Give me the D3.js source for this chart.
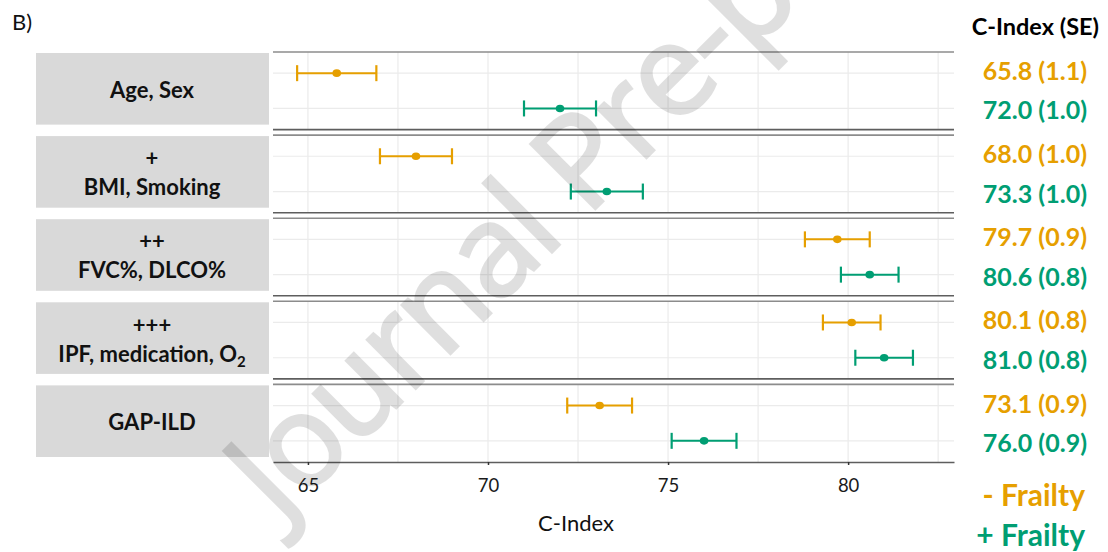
<!DOCTYPE html>
<html>
<head>
<meta charset="utf-8">
<script src="https://cdn.jsdelivr.net/npm/d3@7.9.0/dist/d3.min.js"></script>
<style>
  body { margin: 0; background: #fff; }
  svg { display: block; font-family: Lato, 'Open Sans', sans-serif; }
</style>
</head>
<body>
<div id="chart"></div>
<script>
// model labels (lines of the strip text, "_" marks a subscript)
const models = [
  ['Age, Sex'],
  ['+', 'BMI, Smoking'],
  ['++', 'FVC%, DLCO%'],
  ['+++', 'IPF, medication, O_2'],
  ['GAP-ILD']
];
const series = ['- Frailty', '+ Frailty'];
const colors = ['#E69F00', '#009E73'];

// C-index and standard error per model
const noFrailty = [65.8, 68.0, 79.7, 80.1, 73.1];
const noFrailtySE = [1.1, 1.0, 0.9, 0.8, 0.9];
const withFrailty = [72.0, 73.3, 80.6, 81.0, 76.0];
const withFrailtySE = [1.0, 1.0, 0.8, 0.8, 0.9];

const xTicks = [65, 70, 75, 80];
const xGrid = [65, 67.5, 70, 72.5, 75, 77.5, 80, 82.5];

const width = 1108;
const height = 552;

const rows = [];
models.forEach((m, i) => {
  rows.push({ panel: i, s: 0, est: noFrailty[i], se: noFrailtySE[i] });
  rows.push({ panel: i, s: 1, est: withFrailty[i], se: withFrailtySE[i] });
});

const svg = d3.select('#chart')
  .append('svg')
  .attr('width', width)
  .attr('height', height);

const x = d3.scaleLinear().domain([64.03, 82.94]).range([273, 954]);
const panelY = d3.scaleBand().domain(d3.range(models.length)).range([52, 462]).paddingInner(0.066);
const rowY = d3.scalePoint().domain([0, 1]).range([0, panelY.bandwidth()]).padding(0.6);
const yOf = d => panelY(d.panel) + rowY(d.s);

// panels
const panels = svg.append('g').selectAll('g')
  .data(models)
  .join('g')
  .attr('transform', (d, i) => `translate(0,${panelY(i)})`);

const ph = panelY.bandwidth();

panels.selectAll('.vgrid')
  .data(xGrid)
  .join('line')
  .attr('x1', d => x(d)).attr('x2', d => x(d))
  .attr('y1', 0).attr('y2', ph)
  .attr('stroke', '#ebebeb').attr('stroke-width', 1.2);

panels.selectAll('.hgrid')
  .data([0, 1])
  .join('line')
  .attr('x1', x.range()[0]).attr('x2', x.range()[1])
  .attr('y1', d => rowY(d)).attr('y2', d => rowY(d))
  .attr('stroke', '#ebebeb').attr('stroke-width', 1.2);

panels.append('line')
  .attr('x1', x.range()[0]).attr('x2', x.range()[1])
  .attr('y1', 0).attr('y2', 0)
  .attr('stroke', '#8c8c8c').attr('stroke-width', 1.6);

panels.filter((d, i) => i < models.length - 1)
  .append('line')
  .attr('x1', x.range()[0]).attr('x2', x.range()[1])
  .attr('y1', ph).attr('y2', ph)
  .attr('stroke', '#5e5e5e').attr('stroke-width', 1.6);

// strips
panels.append('rect')
  .attr('x', 36).attr('y', 1)
  .attr('width', 233).attr('height', ph - 6)
  .attr('fill', '#d9d9d9');

panels.each(function(lines) {
  const g = d3.select(this);
  const cy = (ph - 4) / 2 + 1;
  const lh = 29;
  lines.forEach((ln, k) => {
    const t = g.append('text')
      .attr('x', 152)
      .attr('y', cy + (k - (lines.length - 1) / 2) * lh)
      .attr('dy', '0.36em')
      .attr('text-anchor', 'middle')
      .attr('font-weight', 700)
      .attr('font-size', 22)
      .attr('fill', '#111');
    const parts = ln.split('_');
    t.append('tspan').text(parts[0]);
    if (parts[1]) {
      t.append('tspan').attr('font-size', 15).attr('dy', 5).text(parts[1]);
    }
  });
});

// error bars
const bars = svg.append('g').selectAll('g')
  .data(rows)
  .join('g')
  .attr('stroke', d => colors[d.s])
  .attr('fill', d => colors[d.s]);

bars.append('line')
  .attr('x1', d => x(d.est - d.se)).attr('x2', d => x(d.est + d.se))
  .attr('y1', yOf).attr('y2', yOf)
  .attr('stroke-width', 2);

bars.selectAll('.cap')
  .data(d => [[d.est - d.se, yOf(d)], [d.est + d.se, yOf(d)]])
  .join('line')
  .attr('x1', d => x(d[0])).attr('x2', d => x(d[0]))
  .attr('y1', d => d[1] - 8).attr('y2', d => d[1] + 8)
  .attr('stroke-width', 2.2);

bars.append('ellipse')
  .attr('cx', d => x(d.est)).attr('cy', yOf)
  .attr('rx', 4.3).attr('ry', 3.8).attr('stroke', 'none');

// x axis
const axis = svg.append('g')
  .attr('transform', `translate(0,${panelY(models.length - 1) + ph})`)
  .call(d3.axisBottom(x).tickValues(xTicks).tickSize(3).tickSizeOuter(0).tickPadding(14));

axis.select('.domain').attr('stroke', '#5e5e5e').attr('stroke-width', 1.6);
axis.selectAll('.tick line').attr('stroke', '#333').attr('stroke-width', 1.5);
axis.selectAll('.tick text')
  .attr('font-family', 'Lato, sans-serif')
  .attr('font-size', 18.5)
  .attr('fill', '#1a1a1a');

svg.append('text')
  .attr('x', 576).attr('y', 523).attr('dy', '0.36em')
  .attr('text-anchor', 'middle')
  .attr('font-size', 22)
  .attr('fill', '#111')
  .text('C-Index');

// right hand values
svg.append('text')
  .attr('x', 1099).attr('y', 27).attr('dy', '0.36em')
  .attr('text-anchor', 'end')
  .attr('font-weight', 700).attr('font-size', 23.5)
  .attr('fill', '#000')
  .text('C-Index (SE)');

svg.append('g').selectAll('text')
  .data(rows)
  .join('text')
  .attr('x', 1087)
  .attr('y', d => yOf(d) + (d.s === 0 ? -2 : 2))
  .attr('dy', '0.36em')
  .attr('text-anchor', 'end')
  .attr('font-weight', 700).attr('font-size', 25)
  .attr('fill', d => colors[d.s])
  .text(d => `${d.est.toFixed(1)} (${d.se.toFixed(1)})`);

svg.append('g').selectAll('text')
  .data(series)
  .join('text')
  .attr('x', 1085)
  .attr('y', (d, i) => 495 + i * 40)
  .attr('dy', '0.36em')
  .attr('text-anchor', 'end')
  .attr('font-weight', 700).attr('font-size', 30)
  .attr('fill', (d, i) => colors[i])
  .text(d => d);

svg.append('text')
  .attr('x', 12).attr('y', 22).attr('dy', '0.36em')
  .attr('font-size', 22)
  .attr('fill', '#111')
  .text('B)');

// watermark
svg.append('g')
  .attr('opacity', 0.12)
  .append('text')
  .attr('transform', 'translate(280,524) rotate(-45)')
  .attr('font-family', "'Open Sans', sans-serif")
  .attr('font-size', 128)
  .attr('letter-spacing', -3)
  .attr('fill', '#000')
  .attr('stroke', '#000')
  .attr('stroke-width', 3)
  .text('Journal Pre-proof');
</script>
</body>
</html>
